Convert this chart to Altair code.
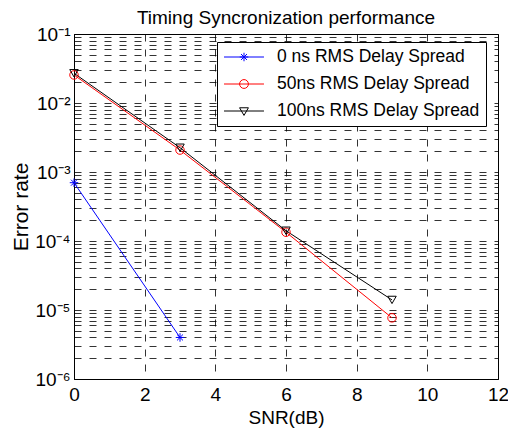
import altair as alt
import pandas as pd

series_names = ["0 ns RMS Delay Spread", "50ns RMS Delay Spread", "100ns RMS Delay Spread"]
colors = ["#0000ff", "#ff0000", "#000000"]

snr_0ns = [0, 3]
ber_0ns = [7.0e-4, 4.0e-6]
snr_50ns = [0, 3, 6, 9]
ber_50ns = [2.55e-2, 2.08e-3, 1.34e-4, 7.7e-6]
snr_100ns = [0, 3, 6, 9]
ber_100ns = [2.7e-2, 2.25e-3, 1.41e-4, 1.40e-5]

x_ticks = [0, 2, 4, 6, 8, 10, 12]
decades = [-6, -5, -4, -3, -2]
y_grid = [m * 10.0 ** k for k in decades for m in range(1, 10)] + [1e-1]

rows = []
for name, xs, ys in [(series_names[0], snr_0ns, ber_0ns),
                     (series_names[1], snr_50ns, ber_50ns),
                     (series_names[2], snr_100ns, ber_100ns)]:
    for xv, yv in zip(xs, ys):
        rows.append({"snr": xv, "ber": yv, "series": name})
df = pd.DataFrame(rows)

FONT = "Liberation Sans"

star = "M0,-1V1M-1,0H1M-0.7,-0.7L0.7,0.7M-0.7,0.7L0.7,-0.7"
# legend symbols: size 289 -> unit = 8.5px; line spans +-20px
L = 2.35
leg_star = f"M-{L},0H{L}M0,-0.5V0.5M-0.5,0H0.5M-0.35,-0.35L0.35,0.35M-0.35,0.35L0.35,-0.35"
leg_circle = f"M-{L},0H{L}M0.52,0A0.52,0.52,0,1,1,-0.52,0A0.52,0.52,0,1,1,0.52,0"
leg_tri = f"M-{L},0H{L}M-0.52,-0.38L0.52,-0.38L0,0.52Z"

label_expr = (
    "abs(datum.value - 0.1) < 1e-9 ? '10⁻¹' : "
    "abs(datum.value - 0.01) < 1e-10 ? '10⁻²' : "
    "abs(datum.value - 0.001) < 1e-11 ? '10⁻³' : "
    "abs(datum.value - 0.0001) < 1e-12 ? '10⁻⁴' : "
    "abs(datum.value - 0.00001) < 1e-13 ? '10⁻⁵' : "
    "abs(datum.value - 0.000001) < 1e-14 ? '10⁻⁶' : ''"
)

x_enc = alt.X(
    "snr:Q",
    scale=alt.Scale(domain=[0, 12], nice=False, zero=False),
    axis=alt.Axis(values=x_ticks, title="SNR(dB)", grid=True, gridDash=[7, 8],
                  gridColor="#000000", gridOpacity=0.8, ticks=False,
                  labelPadding=6, labelFlush=False, titlePadding=4,
                  labelFontSize=19, titleFontSize=19),
)
y_enc = alt.Y(
    "ber:Q",
    scale=alt.Scale(type="log", domain=[1e-6, 1e-1], nice=False),
    axis=alt.Axis(values=y_grid, labelExpr=label_expr, title="Error rate", grid=True,
                  gridDash=[7, 8], gridColor="#000000", gridOpacity=0.8, ticks=False,
                  labelPadding=4, labelOverlap=False, labelFlush=False, titlePadding=3,
                  labelFontSize=19, titleFontSize=21),
)

cscale = alt.Scale(domain=series_names, range=colors)
base = alt.Chart(df).encode(x=x_enc, y=y_enc)

lines = base.mark_line(strokeWidth=1, clip=False).encode(
    color=alt.Color("series:N", scale=cscale, legend=None)
)
points = base.mark_point(filled=False, size=72, strokeWidth=1, opacity=1).encode(
    color=alt.Color("series:N", scale=cscale, legend=None),
    shape=alt.Shape("series:N", scale=alt.Scale(domain=series_names, range=[star, "circle", "triangle-down"]), legend=None),
)
leg = alt.Legend(title=None, orient="none", legendX=143, legendY=8, fillColor="white",
                 strokeColor="black", padding=6, labelFontSize=17.5, labelFont=FONT,
                 symbolOpacity=1, symbolStrokeWidth=1, symbolSize=289,
                 symbolOffset=12, labelOffset=24, rowPadding=9, labelLimit=400,
                 labelColor="black")
legend_layer = base.mark_point(filled=False, size=289, opacity=0, strokeWidth=1).encode(
    color=alt.Color("series:N", scale=cscale, legend=leg),
    shape=alt.Shape("series:N", scale=alt.Scale(domain=series_names, range=[leg_star, leg_circle, leg_tri]), legend=leg),
)

chart = alt.layer(lines, points, legend_layer).resolve_scale(
    color="independent", shape="independent"
).properties(
    width=424, height=345,
    title=alt.TitleParams("Timing Syncronization performance", fontSize=19, font=FONT,
                          fontWeight="normal", color="black", offset=-3, frame="group"),
    autosize=alt.AutoSizeParams(type="none"),
    padding={"left": 66, "top": 26, "right": 10, "bottom": 52},
).configure(background="white").configure_axis(
    labelFont=FONT, titleFont=FONT, titleFontWeight="normal", labelColor="black",
    titleColor="black", domainColor="black", domainWidth=1,
).configure_view(stroke="black", strokeWidth=1)

chart.save("out.html", embed_options={"renderer": "svg", "actions": False})
